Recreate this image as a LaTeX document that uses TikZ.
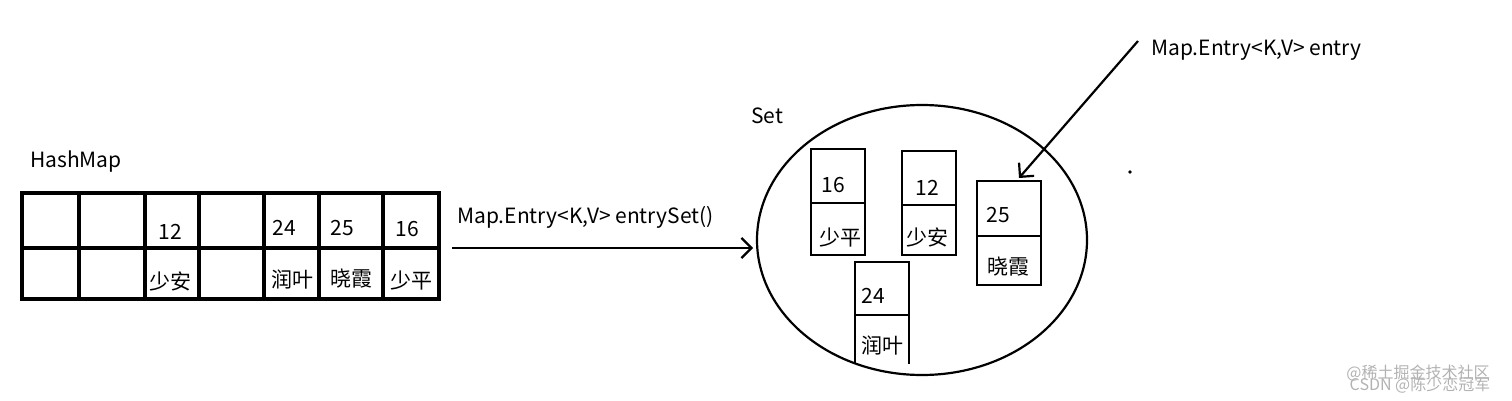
\documentclass[tikz,border=0pt]{standalone}
\usepackage{fontspec}
\setmainfont{Noto Sans CJK SC}
\usetikzlibrary{arrows.meta,shapes.geometric}
\begin{document}
\begin{tikzpicture}[x=1pt,y=-1pt,
  lbl/.style={inner sep=0pt,font=\fontsize{21}{21}\selectfont},
  grid/.style={line width=3.2pt},
  ebox/.style={draw,line width=2.2pt},
  conn/.style={line width=2.2pt,-{Straight Barb[length=10pt,width=20pt,line width=2.2pt]}}]
\useasboundingbox (0,0) rectangle (1512,401);
% HashMap grid
\foreach \a/\b in {22/79,79/145,145/199,199/264,264/319,319/383,383/439}{
  \draw[grid] (\a,193) rectangle (\b,299);
}
\draw[grid] (22,248) -- (439,248);
\node[lbl] (hm) at (76,162) {HashMap};
\node[lbl] (k12) at (170,232) {12};
\node[lbl] (v12) at (170,281) {少安};
\node[lbl] (k24) at (284,228) {24};
\node[lbl] (v24) at (292,279) {润叶};
\node[lbl] (k25) at (342,228) {25};
\node[lbl] (v25) at (351,279) {晓霞};
\node[lbl] (k16) at (407,229) {16};
\node[lbl] (v16) at (411,281) {少平};
\coordinate (gr) at (452,248);
% Set ellipse
\draw[line width=2.2pt] (922,240) ellipse (165 and 135);
\coordinate (setw) at (753,248);
\node[lbl] (setl) at (767,116) {Set};
\draw[conn] (gr) -- (setw);
\node[lbl,anchor=west] (es) at (457,217) {Map.Entry<K,V> entrySet()};
% entries
\draw[ebox] (811,149) rectangle (865,255); \draw[ebox] (811,203) -- (865,203);
\node[lbl] (s16) at (833,185) {16}; \node[lbl] (s16v) at (840,238) {少平};
\draw[ebox] (902,151) rectangle (956,255); \draw[ebox] (902,205) -- (956,205);
\node[lbl] (s12) at (927,188) {12}; \node[lbl] (s12v) at (927,237) {少安};
\draw[ebox] (977,181) rectangle (1041,285); \draw[ebox] (977,236) -- (1041,236);
\node[lbl] (s25) at (998,215) {25}; \node[lbl] (s25v) at (1008,267) {晓霞};
\draw[ebox] (855,364) -- (855,262) -- (909,262) -- (909,364); \draw[ebox] (855,315) -- (909,315);
\node[lbl] (s24) at (873,296) {24}; \node[lbl] (s24v) at (882,345) {润叶};
\coordinate (box25) at (1019,178);
\coordinate (src) at (1138,41);
\node[lbl,anchor=west] (el) at (1151,50) {Map.Entry<K,V> entry};
\draw[conn] (src) -- (box25);
\fill (1130,172) circle (1.8pt);
% watermark
\node[lbl,text=gray!60,font=\fontsize{16}{16}\selectfont] (wm1) at (1418,373) {@稀土掘金技术社区};
\node[lbl,text=gray!60,font=\fontsize{16}{16}\selectfont] (wm2) at (1420,385) {CSDN @陈少恋冠军};
\end{tikzpicture}
\end{document}
